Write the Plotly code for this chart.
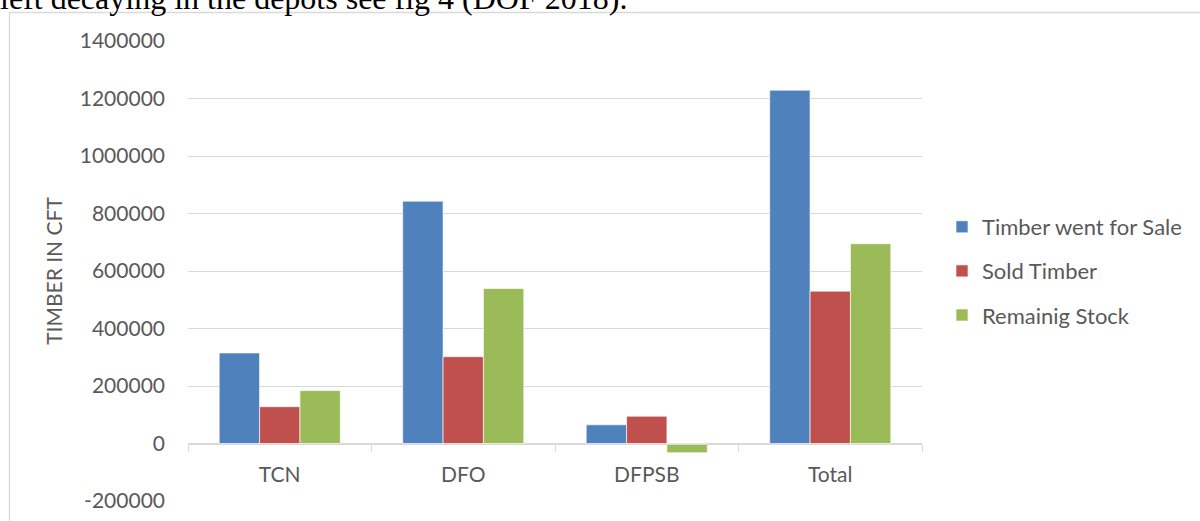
import plotly.graph_objects as go

categories = ["TCN", "DFO", "DFPSB", "Total"]
timber_for_sale = [315000, 843000, 65000, 1229000]
sold_timber = [128000, 302000, 95000, 530000]
remaining_stock = [184000, 539000, -32000, 695000]

series_names = ["Timber went for Sale", "Sold Timber", "Remainig Stock"]
series_colors = ["#4F81BD", "#C0504D", "#9BBB59"]

y_tick_vals = [-200000, 0, 200000, 400000, 600000, 800000, 1000000, 1200000, 1400000]
y_tick_text = ["-200000", "0", "200000", "400000", "600000", "800000", "1000000", "1200000", "1400000"]

W, H = 1200, 521
L, R, T, B = 188, 278, 41, 20
pw, ph = W - L - R, H - T - B

def px_to_paper_x(px):
    return (px - L) / pw

def px_to_paper_y(py):
    return (H - B - py) / ph

fig = go.Figure()
for i, (name, vals, col) in enumerate(zip(series_names,
                                          [timber_for_sale, sold_timber, remaining_stock],
                                          series_colors)):
    fig.add_trace(go.Bar(
        x=categories, y=vals, name=name, legendgroup=f"g{i}",
        marker=dict(color=col, line=dict(color="rgba(255,255,255,0.8)", width=0.8)),
    ))

grid_col = "#D9D9D9"
font_fam = "Lato, 'Noto Sans', sans-serif"
text_col = "#595959"
fs = 21

fig.update_layout(
    width=W, height=H,
    margin=dict(l=L, r=R, t=T, b=B, pad=0, autoexpand=False),
    paper_bgcolor="white", plot_bgcolor="white",
    barmode="group", bargap=0.34, bargroupgap=0,
    font=dict(family=font_fam, size=fs, color=text_col),
    xaxis=dict(
        anchor="free", position=0.125, automargin=False,
        showline=True, linecolor=grid_col, linewidth=1.3,
        ticks="outside", tickson="boundaries", ticklen=7,
        tickcolor=grid_col, tickwidth=1.3,
        showgrid=False, ticklabelstandoff=12,
        tickfont=dict(size=fs, color=text_col, family=font_fam),
    ),
    yaxis=dict(
        range=[-200000, 1400000], automargin=False,
        tickvals=y_tick_vals, ticktext=y_tick_text,
        showgrid=True, gridcolor=grid_col, gridwidth=1.3,
        zeroline=False, showline=False, ticks="",
        ticklabelstandoff=22,
        tickfont=dict(size=fs, color=text_col, family=font_fam),
        title=dict(text="TIMBER IN CFT", standoff=11,
                   font=dict(size=fs, color=text_col, family=font_fam)),
    ),
    legend=dict(
        x=px_to_paper_x(942), y=px_to_paper_y(206),
        xanchor="left", yanchor="top",
        font=dict(size=22, color=text_col, family=font_fam),
        tracegroupgap=12.5, traceorder="grouped",
        bgcolor="rgba(0,0,0,0)",
    ),
    showlegend=True,
)

# chart frame
fig.add_shape(type="rect", xref="paper", yref="paper",
              x0=px_to_paper_x(9.5), x1=px_to_paper_x(1215),
              y0=px_to_paper_y(535), y1=px_to_paper_y(12.5),
              line=dict(color=grid_col, width=1.3), layer="below")

# cut-off document text above the chart
fig.add_annotation(
    xref="paper", yref="paper",
    x=px_to_paper_x(-2), y=px_to_paper_y(-2.5),
    xanchor="left", yanchor="middle", showarrow=False,
    text="left decaying in the depots see fig 4 (DOF 2018).",
    font=dict(family="'Liberation Serif', 'DejaVu Serif', serif", size=32, color="black"),
)

fig.write_html("out.html",
               config={"displayModeBar": False},
               post_script="document.body.style.margin='0';document.body.style.overflow='hidden';")
